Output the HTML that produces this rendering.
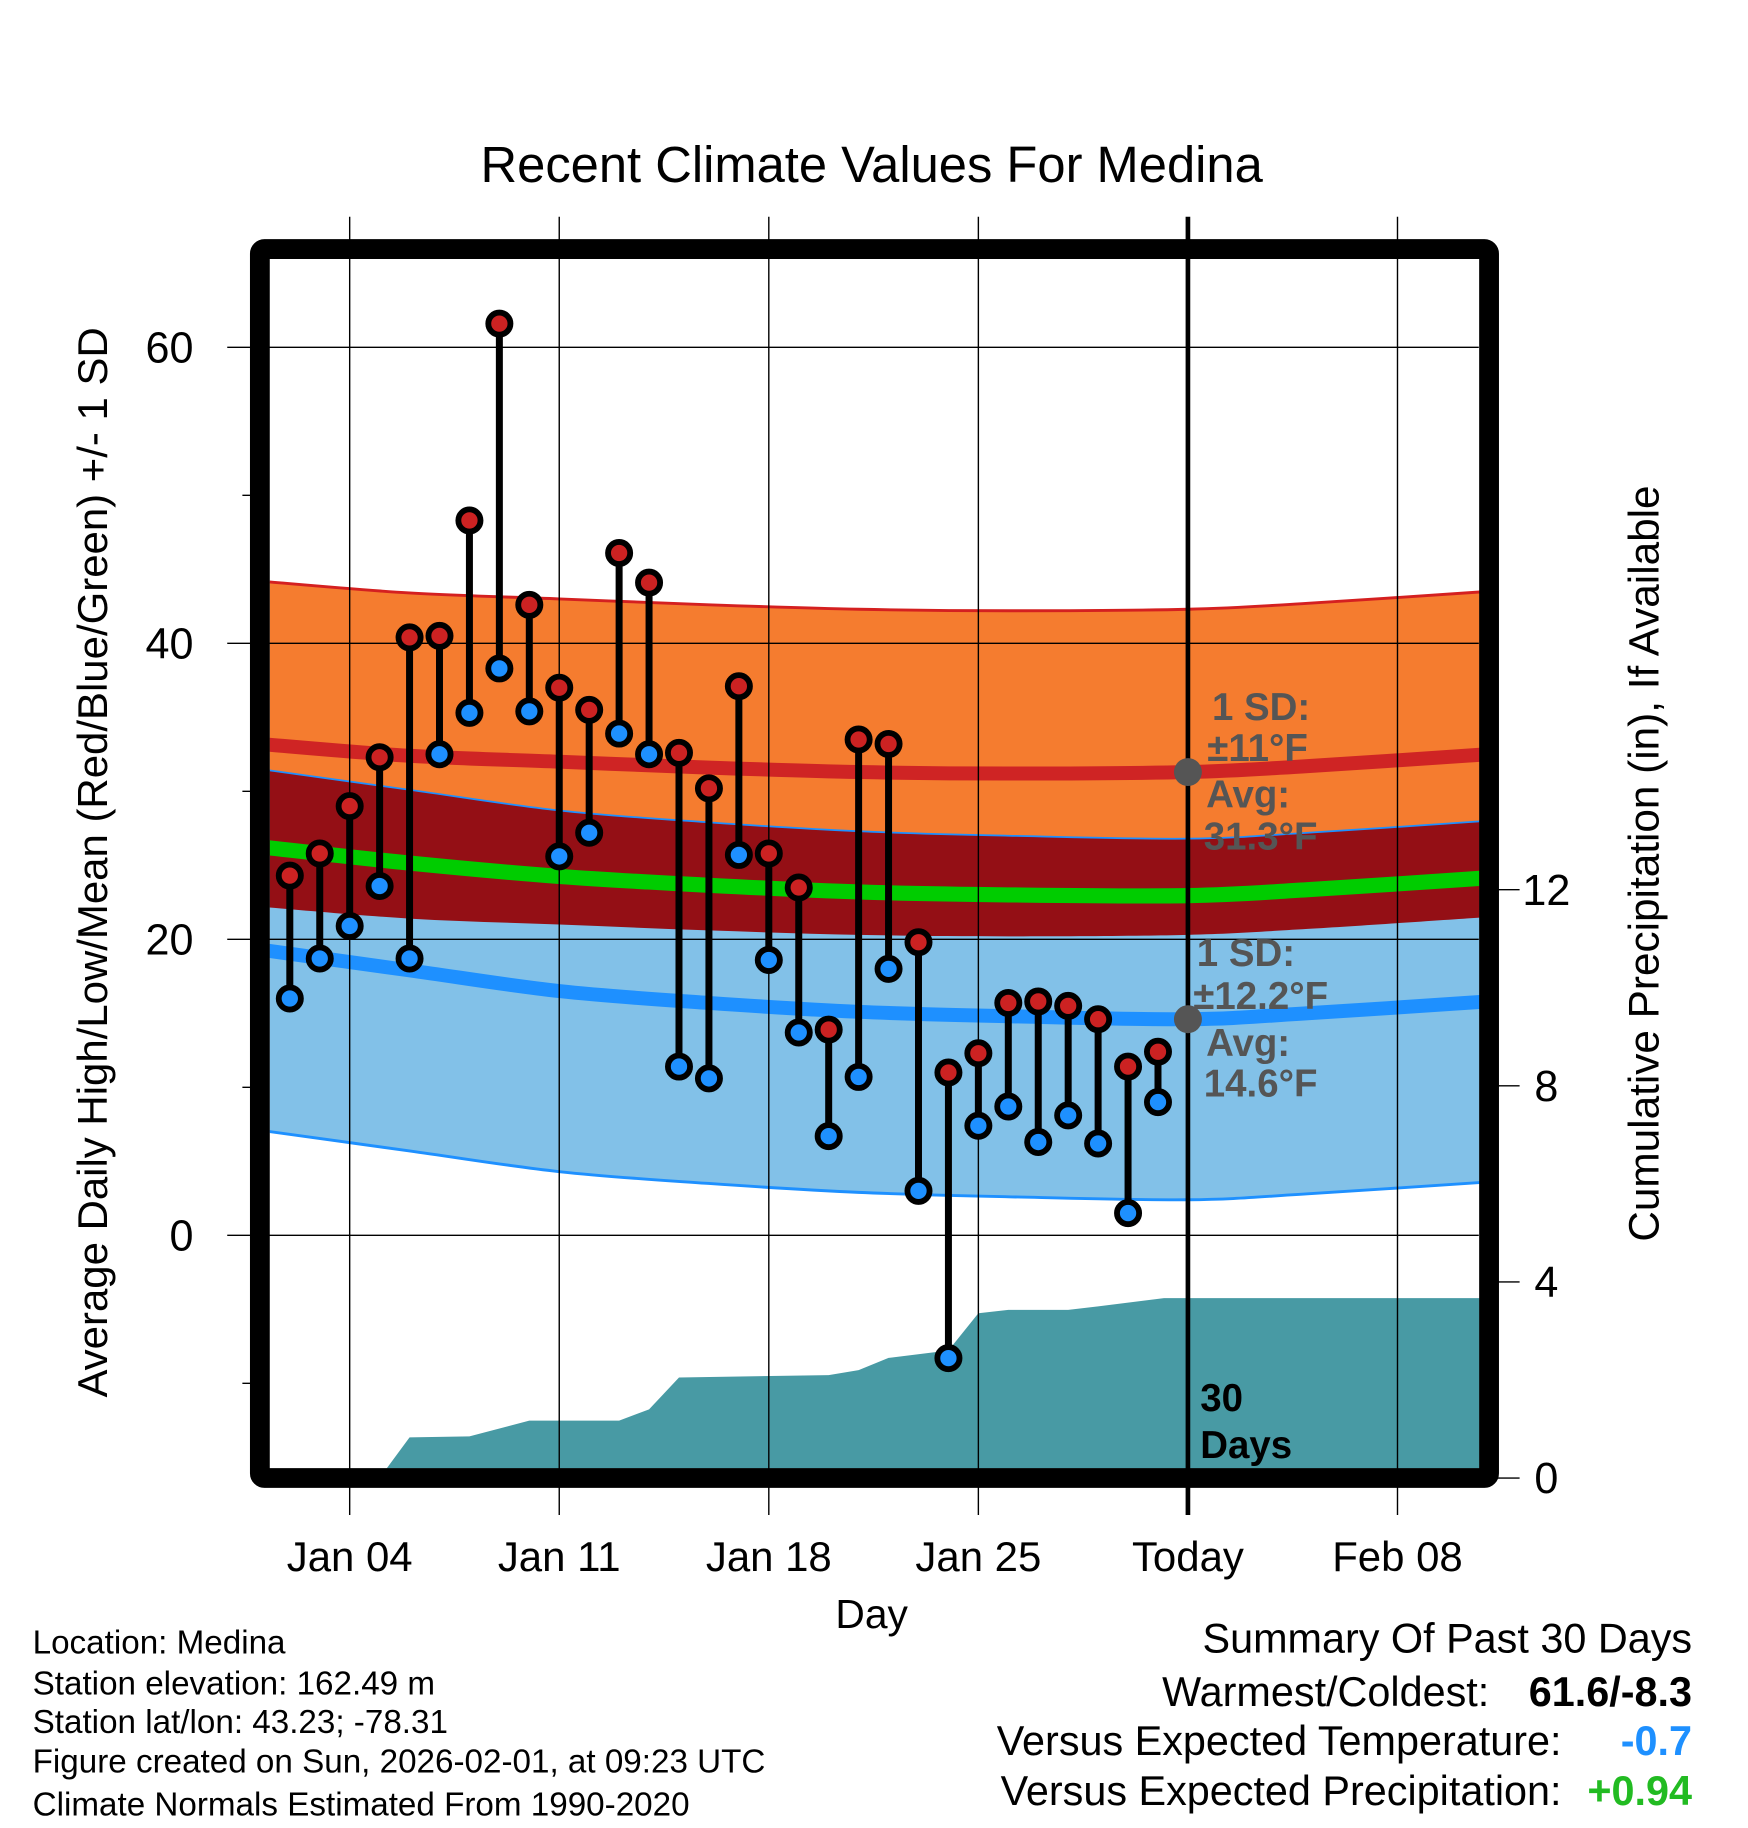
<!DOCTYPE html>
<html><head><meta charset="utf-8">
<style>
html,body{margin:0;padding:0;background:#fff;}
svg{display:block;font-family:"Liberation Sans",Arial,sans-serif;}
</style></head>
<body>
<svg id="chart" width="1748" height="1828" viewBox="0 0 1500 1568.6" xmlns="http://www.w3.org/2000/svg">
<defs><clipPath id="plotClip"><rect x="231.5" y="222" width="1038" height="1038"/></clipPath></defs>
<g id="plot" clip-path="url(#plotClip)"></g>
<g id="overlay"></g>
<text x="748" y="156" text-anchor="middle" font-size="43.5">Recent Climate Values For Medina</text>
<text transform="translate(92,740) rotate(-90)" text-anchor="middle" font-size="36">Average Daily High/Low/Mean (Red/Blue/Green) +/- 1 SD</text>
<text transform="translate(1423,741) rotate(-90)" text-anchor="middle" font-size="36.3">Cumulative Precipitation (in), If Available</text>
<text x="748" y="1397" text-anchor="middle" font-size="35">Day</text>
<g font-size="28.5">
<text x="28" y="1419">Location: Medina</text>
<text x="28" y="1454">Station elevation: 162.49 m</text>
<text x="28" y="1487">Station lat/lon: 43.23; -78.31</text>
<text x="28" y="1521">Figure created on Sun, 2026-02-01, at 09:23 UTC</text>
<text x="28" y="1558">Climate Normals Estimated From 1990-2020</text>
</g>
<g font-size="35.5">
<text x="1452" y="1418" text-anchor="end">Summary Of Past 30 Days</text>
<text x="1278" y="1464" text-anchor="end">Warmest/Coldest:</text>
<text x="1452" y="1464" text-anchor="end" font-weight="bold">61.6/-8.3</text>
<text x="1340" y="1506" text-anchor="end">Versus Expected Temperature:</text>
<text x="1452" y="1506" text-anchor="end" font-weight="bold" fill="#1e90ff">-0.7</text>
<text x="1340" y="1549" text-anchor="end">Versus Expected Precipitation:</text>
<text x="1452" y="1549" text-anchor="end" font-weight="bold" fill="#22bb22">+0.94</text>
</g>
</svg>
<script>
const obsDays=[1,2,3,4,5,6,7,8,9,10,11,12,13,14,15,16,17,18,19,20,21,22,23,24,25,26,27,28,29,30];
const highs=[24.3,25.8,29.0,32.3,40.4,40.5,48.3,61.6,42.6,37.0,35.5,46.1,44.1,32.6,30.2,37.1,25.8,23.5,13.9,33.5,33.2,19.8,11.0,12.3,15.7,15.8,15.5,14.6,11.4,12.4];
const lows=[16.0,18.7,20.9,23.6,18.7,32.5,35.3,38.3,35.4,25.6,27.2,33.9,32.5,11.4,10.6,25.7,18.6,13.7,6.7,10.7,18.0,3.0,-8.3,7.4,8.7,6.3,8.1,6.2,1.5,9.0];
const normDays=[0,5,10,15,20,25,31,35,41];
const normHigh=[33.2,32.4,32.0,31.6,31.3,31.2,31.3,31.7,32.5];
const normLow=[19.3,17.9,16.5,15.7,15.1,14.8,14.6,15.0,15.8];
const sdHigh=11.0;
const sdLow=12.2;
const precipDays=[4.0,5,7,9,12,13,14,19,20,21,23,24,25,27,28,30.2,41.5];
const precipVals=[0,0.83,0.85,1.17,1.17,1.4,2.05,2.1,2.2,2.45,2.6,3.36,3.43,3.43,3.5,3.67,3.67];
const xTickDays=[3,10,17,24,31,38];
const xTickLabels=["Jan 04","Jan 11","Jan 18","Jan 25","Today","Feb 08"];
const yTicks=[60,40,20,0];
const yMinor=[50,30,10,-10];
const pTicks=[0,4,8,12];
const todayDay=31;

const NS="http://www.w3.org/2000/svg";
const X=d=>223+d*25.69;
const Y=t=>1060-t*12.7;
const P=v=>1268.3-v*42.07;
const plot=document.getElementById('plot');
const ov=document.getElementById('overlay');
function mk(tag,attrs,parent){const e=document.createElementNS(NS,tag);for(const k in attrs)e.setAttribute(k,attrs[k]);parent.appendChild(e);return e;}
function curve(vals,off){return normDays.map((d,i)=>[X(d),Y(vals[i]+off)]);}
function smoothSeg(pts){
  let s="";
  for(let i=0;i<pts.length-1;i++){
    const p0=pts[Math.max(0,i-1)],p1=pts[i],p2=pts[i+1],p3=pts[Math.min(pts.length-1,i+2)];
    const c1=[p1[0]+(p2[0]-p0[0])/6,p1[1]+(p2[1]-p0[1])/6];
    const c2=[p2[0]-(p3[0]-p1[0])/6,p2[1]-(p3[1]-p1[1])/6];
    s+=" C"+c1[0]+","+c1[1]+" "+c2[0]+","+c2[1]+" "+p2[0]+","+p2[1];
  }
  return s;
}
function smooth(pts){return "M"+pts[0][0]+","+pts[0][1]+smoothSeg(pts);}
function band(topPts,botPts){
  const bot=botPts.slice().reverse();
  return smooth(topPts)+" L"+bot[0][0]+","+bot[0][1]+smoothSeg(bot)+" Z";
}
let e=mk('path',{d:band(curve(normHigh,sdHigh),curve(normHigh,-sdHigh)),fill:'#f57c2f'},plot);


e=mk('path',{d:band(curve(normLow,sdLow),curve(normLow,-sdLow)),fill:'#82c1e8'},plot);


e=mk('path',{d:band(curve(normLow,sdLow),curve(normHigh,-sdHigh)),fill:'#940f15'},plot);


e=mk('path',{d:smooth(curve(normHigh,sdHigh)),fill:'none',stroke:'#d42020','stroke-width':2.5},plot);


e=mk('path',{d:smooth(curve(normLow,sdLow)),fill:'none',stroke:'#1e90ff','stroke-width':1.5},plot);


e=mk('path',{d:smooth(curve(normLow,-sdLow)),fill:'none',stroke:'#1e90ff','stroke-width':2.5},plot);


e=mk('path',{d:smooth(curve(normHigh,0)),fill:'none',stroke:'#cf2424','stroke-width':12},plot);


e=mk('path',{d:smooth(curve(normLow,0)),fill:'none',stroke:'#1e90ff','stroke-width':12},plot);


const meanVals=normHigh.map((v,i)=>(v+normLow[i])/2);
e=mk('path',{d:smooth(normDays.map((d,i)=>[X(d),Y(meanVals[i])])),fill:'none',stroke:'#00cc00','stroke-width':13},plot);


{
  let s="M"+X(precipDays[0])+","+P(0);
  precipDays.forEach((d,i)=>{s+=" L"+X(d)+","+P(precipVals[i]);});
  s+=" L"+X(precipDays[precipDays.length-1])+","+P(0)+" Z";
  e=mk('path',{d:s,fill:'#489aa4'},plot);
  
  
}
xTickDays.forEach((d,i)=>{
  if(d===todayDay)return;
  e=mk('line',{x1:X(d),x2:X(d),y1:186,y2:1300,stroke:'#000','stroke-width':1.2},ov);
  
  
});
yTicks.forEach(t=>{
  e=mk('line',{x1:195,x2:1269,y1:Y(t),y2:Y(t),stroke:'#000','stroke-width':1.2},ov);
  
  
  e=mk('text',{x:166,y:Y(t)+13,'text-anchor':'end','font-size':37},ov);e.textContent=t;
  
  
});
yMinor.forEach(t=>{
  e=mk('line',{x1:208,x2:223,y1:Y(t),y2:Y(t),stroke:'#000','stroke-width':1.2},ov);
  
  
});
pTicks.forEach(v=>{
  e=mk('line',{x1:1278,x2:1304,y1:P(v),y2:P(v),stroke:'#000','stroke-width':1.2},ov);
  
  
  e=mk('text',{x:1327,y:P(v)+13,'text-anchor':'middle','font-size':37},ov);e.textContent=v;
  
  
});
xTickDays.forEach((d,i)=>{
  e=mk('text',{x:X(d),y:1348,'text-anchor':'middle','font-size':36},ov);e.textContent=xTickLabels[i];
  
  
});
e=mk('line',{x1:X(todayDay),x2:X(todayDay),y1:186,y2:1300,stroke:'#000','stroke-width':4},ov);


obsDays.forEach((d,i)=>{
  e=mk('line',{x1:X(d),x2:X(d),y1:Y(highs[i]),y2:Y(lows[i]),stroke:'#000','stroke-width':6},ov);
  
  
});
obsDays.forEach((d,i)=>{
  e=mk('circle',{cx:X(d),cy:Y(highs[i]),r:9.5,fill:'#cc2222',stroke:'#000','stroke-width':5},ov);
  
  
  e=mk('circle',{cx:X(d),cy:Y(lows[i]),r:9.5,fill:'#1e90ff',stroke:'#000','stroke-width':5},ov);
  
  
});
const todayHigh=normHigh[normDays.indexOf(todayDay)], todayLow=normLow[normDays.indexOf(todayDay)];
e=mk('circle',{cx:X(todayDay),cy:Y(todayHigh),r:12,fill:'#555'},ov);


e=mk('circle',{cx:X(todayDay),cy:Y(todayLow),r:12,fill:'#555'},ov);


const ann=[["1 SD:",1040,606],["\u00b111\u00b0F",1036,641],["Avg:",1035,681],["31.3\u00b0F",1033,717],
["1 SD:",1027,817],["\u00b112.2\u00b0F",1024,854],["Avg:",1035,894],["14.6\u00b0F",1033,929]];
ann.forEach(a=>{
  e=mk('text',{x:a[1],y:a[2]+12,'font-size':33,'font-weight':'bold',fill:'#555'},ov);e.textContent=a[0];
  
  
});
e=mk('text',{x:1030,y:1211,'font-size':33,'font-weight':'bold'},ov);e.textContent="30";


e=mk('text',{x:1030,y:1251,'font-size':33,'font-weight':'bold'},ov);e.textContent="Days";


e=mk('rect',{x:223,y:213.7,width:1054.8,height:1054.6,fill:'none',stroke:'#000','stroke-width':17,rx:4},ov);


</script>
</body></html>
